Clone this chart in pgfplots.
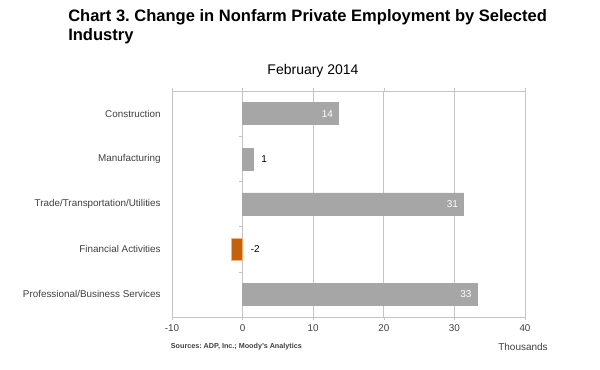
\documentclass[border=0pt]{standalone}
\usepackage{pgfplots}
\pgfplotsset{compat=1.18}
\usepackage{pgfplotstable}
\usepackage{fontspec}
\setmainfont{Liberation Sans}
\frenchspacing
\definecolor{gridgray}{HTML}{C4C4C4}
\definecolor{bargray}{HTML}{A6A6A6}
\definecolor{barorange}{HTML}{C2620E}
\definecolor{txtgray}{HTML}{404040}
\pgfplotstableread{
y x label
0 13.6 14
2 31.3 31
4 33.2 33
}\insidebars
\pgfplotstableread{
y x label
1 1.5 1
}\outsidebar
\pgfplotstableread{
y x label
3 -1.6 -2
}\negbar
\begin{document}
\begin{tikzpicture}
\path[use as bounding box] (0,0) rectangle (450pt,277.5pt);
\node[anchor=base west, font=\fontsize{12.4}{13.9}\selectfont\bfseries, text=black, inner sep=0pt] at (51pt,261pt) {Chart 3. Change in Nonfarm Private Employment by Selected};
\node[anchor=base west, font=\fontsize{12.4}{13.9}\selectfont\bfseries, text=black, inner sep=0pt] at (51pt,247pt) {Industry};
\node[anchor=base, font=\fontsize{10.5}{12}\selectfont, text=black, inner sep=0pt] at (234.75pt,221.25pt) {February 2014};
\begin{axis}[
  at={(129pt,39.75pt)}, anchor=south west,
  scale only axis, width=264.75pt, height=169.5pt,
  xmin=-10, xmax=40, ymin=-0.5, ymax=4.5,
  y dir=reverse,
  xtick={-10,0,...,40},
  ytick={0,1,2,3,4},
  yticklabels={Construction,Manufacturing,Trade/Transportation/Utilities,Financial Activities,Professional/Business Services},
  ytick style={draw=none},
  xtick style={gridgray},
  tick align=outside, major tick length=2pt,
  xmajorgrids, grid style={gridgray, line width=0.6pt},
  axis line style={gridgray, line width=0.6pt},
  ticklabel style={font=\fontsize{7.4}{9}\selectfont, text=txtgray},
  /pgf/number format/assume math mode=true,
  yticklabel style={xshift=-3pt},
  clip=false,
]
\addplot[xbar, bar width=16.5pt, bar shift=0pt, fill=bargray, draw=bargray,
  nodes near coords, point meta=explicit symbolic,
  every node near coord/.style={anchor=east, xshift=-4pt, inner sep=0pt, text=white, font=\fontsize{7.5}{9}\selectfont}]
  table[x=x, y=y, meta=label] {\insidebars};
\addplot[xbar, bar width=16.5pt, bar shift=0pt, fill=bargray, draw=bargray,
  nodes near coords, point meta=explicit symbolic,
  every node near coord/.style={anchor=west, xshift=6pt, inner sep=0pt, text=black, font=\fontsize{7.5}{9}\selectfont}]
  table[x=x, y=y, meta=label] {\outsidebar};
\addplot[xbar, bar width=16.5pt, bar shift=0pt, fill=barorange, draw=orange!60!white]
  table[x=x, y=y] {\negbar};
\addplot[draw=none, mark=none, nodes near coords, point meta=explicit symbolic,
  every node near coord/.style={anchor=west, xshift=6pt, inner sep=0pt, text=black, font=\fontsize{7.5}{9}\selectfont}]
  table[x expr=0, y=y, meta=label] {\negbar};
\draw[gridgray] (axis cs:0,0.5) -- ([xshift=-2.5pt]axis cs:0,0.5);
\draw[gridgray] (axis cs:0,1.5) -- ([xshift=-2.5pt]axis cs:0,1.5);
\draw[gridgray] (axis cs:0,2.5) -- ([xshift=-2.5pt]axis cs:0,2.5);
\draw[gridgray] (axis cs:0,3.5) -- ([xshift=-2.5pt]axis cs:0,3.5);
\end{axis}
\node[anchor=base west, font=\fontsize{5.4}{6}\selectfont\bfseries, text=txtgray, inner sep=0pt] at (128pt,15.75pt) {Sources: ADP, Inc.; Moody's Analytics};
\node[anchor=base west, font=\fontsize{7.5}{9}\selectfont, text=txtgray, inner sep=0pt] at (373.5pt,14.25pt) {Thousands};
\end{tikzpicture}
\end{document}
